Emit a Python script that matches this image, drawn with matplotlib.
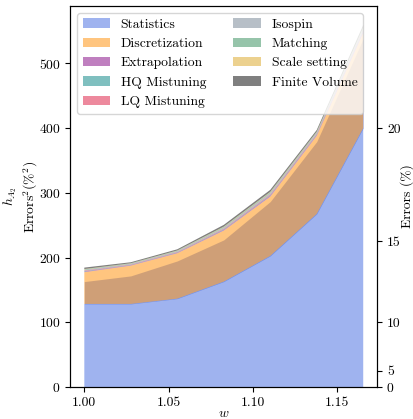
import matplotlib
matplotlib.use("Agg")
import matplotlib.pyplot as plt

plt.rcParams['font.family'] = 'serif'
plt.rcParams['font.serif'] = ['cmr10']
plt.rcParams['mathtext.fontset'] = 'cm'
plt.rcParams['axes.formatter.use_mathtext'] = True
plt.rcParams['font.size'] = 9.8
plt.rcParams['axes.unicode_minus'] = False

w = [1.0, 1.02755, 1.0551, 1.08265, 1.1102, 1.13775, 1.1653]

labels = ["Statistics", "Discretization", "Extrapolation", "HQ Mistuning",
          "LQ Mistuning", "Isospin", "Matching", "Scale setting", "Finite Volume"]
colors = ["royalblue", "darkorange", "purple", "teal", "crimson",
          "slategray", "seagreen", "goldenrod", "black"]

stat = [128.3, 128.3, 136.5, 162.8, 202.5, 267.4, 400.0]
stat_overlap = [34.5, 43.3, 58.2, 64.4, 83.9, 111.6, 138.0]
disc = [49.0, 59.2, 70.1, 78.8, 91.5, 120.6, 147.0]
extrap = [0.9, 0.7, 0.8, 1.1, 1.4, 1.2, 1.6]
hq = [0.7, 0.5, 0.6, 0.9, 1.0, 0.9, 1.2]
lq = [0.9, 0.7, 0.8, 1.1, 1.4, 1.2, 1.6]
iso = [0.9, 0.7, 0.8, 1.1, 1.4, 1.2, 1.6]
match = [0.9, 0.7, 0.8, 1.2, 1.4, 1.2, 1.6]
scale = [0.6, 0.4, 0.5, 0.7, 0.8, 0.7, 0.9]
fv = [2.2, 1.5, 1.8, 2.7, 3.1, 2.6, 3.5]

right_ticks = [0, 25, 100, 225, 400]
right_ticklabels = ["0", "5", "10", "15", "20"]

fig = plt.figure(figsize=(4.14, 4.19), dpi=100)
ax = fig.add_axes([0.170, 0.0764, 0.741, 0.9093])

top_overlap = [s + o for s, o in zip(stat, stat_overlap)]
ax.fill_between(w, stat, top_overlap, color="royalblue", alpha=0.5,
                linewidth=0, zorder=0.9)
ax.stackplot(w, stat, disc, extrap, hq, lq, iso, match, scale, fv,
             labels=labels, colors=colors, alpha=0.5, linewidth=0)

ax.set_xlim(0.99174, 1.17356)
ax.set_ylim(0, 588.5)
ax.set_xticks([1.00, 1.05, 1.10, 1.15])
ax.set_xticklabels(["1.00", "1.05", "1.10", "1.15"])
ax.set_yticks([0, 100, 200, 300, 400, 500])
ax.set_xlabel(r"$w$", labelpad=-1)
ax.set_ylabel(r"$h_{A_2}$" + "\n" + r"Errors$^2(\%^2)$", labelpad=-1)
ax.legend(loc="upper left", ncol=2)

ax2 = ax.twinx()
ax2.set_ylim(ax.get_ylim())
ax2.set_yticks(right_ticks)
ax2.set_yticklabels(right_ticklabels)
ax2.set_ylabel("Errors (%)", labelpad=0)

fig.savefig("out.png", dpi=100)
